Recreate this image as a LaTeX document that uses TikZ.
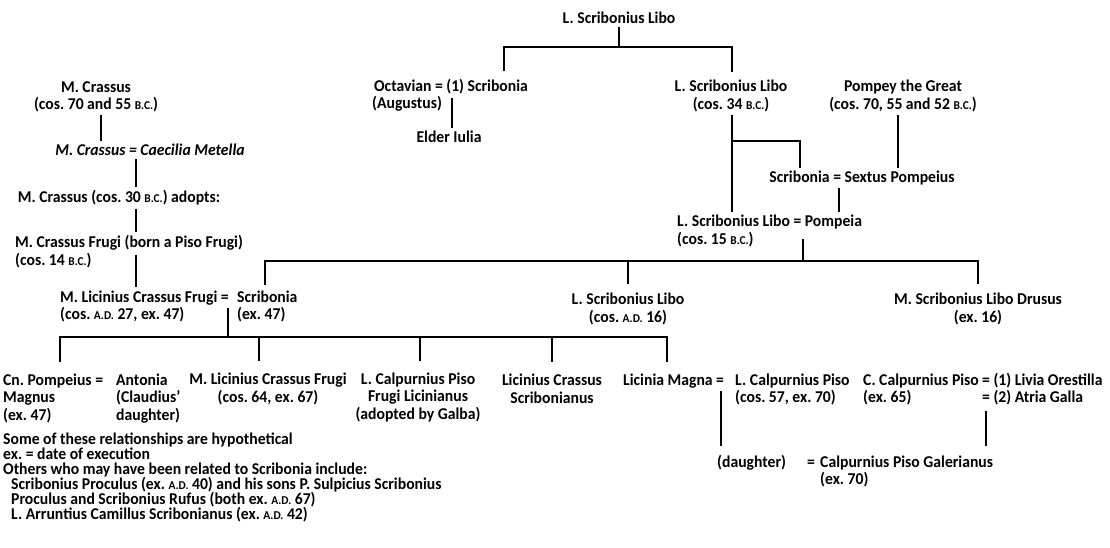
\documentclass[tikz,border=0pt]{standalone}
\usepackage{fontspec}
\setmainfont{Carlito}[FakeStretch=0.95]
\frenchspacing
\newcommand{\bcx}{{\fontsize{12}{12}\selectfont B.C.}}
\newcommand{\adx}{{\fontsize{12}{12}\selectfont A.D.}}
\tikzset{
  person/.style={inner xsep=2pt, inner ysep=3pt, align=center, font=\fontsize{16.5}{17.5}\selectfont\bfseries},
  personl/.style={person, align=left, anchor=west},
  kin/.style={line width=1.8pt},
  drop/.style={kin, shorten >=6pt},
}
\begin{document}
\begin{tikzpicture}[x=1pt, y=-1pt]
\useasboundingbox (0,0) rectangle (1110,548);

\node[person] (top) at (619,18) {L. Scribonius Libo};
\node[person] (oct) at (451,87) {Octavian = (1) Scribonia};
\node[personl] (aug) at (370,104) {(Augustus)};
\node[person] (iulia) at (449,137) {Elder Iulia};
\node[person] (libo34) at (731,95.75) {L. Scribonius Libo\\(cos. 34 \bcx)};
\node[person] (pompey) at (903,95.75) {Pompey the Great\\(cos. 70, 55 and 52 \bcx)};
\node[person] (scrsex) at (862,178) {Scribonia = Sextus Pompeius};
\node[personl] (libo15) at (675,230.75) {L. Scribonius Libo = Pompeia\\(cos. 15 \bcx)};

\node[person] (crassus) at (96,96.75) {M. Crassus\\(cos. 70 and 55 \bcx)};
\node[person] (metella) at (150,150) {\itshape M. Crassus = Caecilia Metella};
\node[person] (adopts) at (119,198) {M. Crassus (cos. 30 \bcx) adopts:};
\node[personl] (frugi) at (13,251.75) {M. Crassus Frugi (born a Piso Frugi)\\(cos. 14 \bcx)};
\node[personl] (lcf) at (58,307.5) {\begin{tabular}{@{}l@{}l@{}}\makebox[177pt][l]{M. Licinius Crassus Frugi =} & Scribonia\\(cos. \adx\ 27, ex. 47) & (ex. 47)\end{tabular}};
\node[person] (libo16) at (628,308.75) {L. Scribonius Libo\\(cos. \adx\ 16)};
\node[person] (drusus) at (978,308.75) {M. Scribonius Libo Drusus\\(ex. 16)};

\node[personl] (pompmag) at (1,399.3) {\begin{tabular}{@{}l@{}l@{}}\makebox[113pt][l]{Cn. Pompeius =} & Antonia\\Magnus & (Claudius'\\(ex. 47) & daughter)\end{tabular}};
\node[person] (lcf2) at (268,388.75) {M. Licinius Crassus Frugi\\(cos. 64, ex. 67)};
\node[person] (piso) at (418,397.5) {L. Calpurnius Piso\\Frugi Licinianus\\(adopted by Galba)};
\node[person] (scrib) at (552,388.75) {Licinius Crassus\\Scribonianus};
\node[personl] (magna) at (621,390.5) {\begin{tabular}{@{}l@{}l@{}}\makebox[112pt][l]{Licinia Magna =} & L. Calpurnius Piso\\ & (cos. 57, ex. 70)\end{tabular}};
\node[personl] (cpiso) at (861,390.5) {\begin{tabular}{@{}l@{}l@{}}\makebox[119pt][l]{C. Calpurnius Piso} & = (1) Livia Orestilla\\(ex. 65) & = (2) Atria Galla\end{tabular}};
\node[personl] (galer) at (715,472.5) {\begin{tabular}{@{}l@{}l@{}}\makebox[103pt][l]{\makebox[90pt][l]{(daughter)}=} & Calpurnius Piso Galerianus\\ & (ex. 70)\end{tabular}};

\node[personl, font=\fontsize{16.5}{15}\selectfont\bfseries] (notes) at (1,477.5) {Some of these relationships are hypothetical\\ex. = date of execution\\Others who may have been related to Scribonia include:\\\hspace*{8pt}Scribonius Proculus (ex. \adx\ 40) and his sons P. Sulpicius Scribonius\\\hspace*{8pt}Proculus and Scribonius Rufus (both ex. \adx\ 67)\\\hspace*{8pt}L. Arruntius Camillus Scribonianus (ex. \adx\ 42)};

\coordinate (j1) at (619,47);
\coordinate (j1l) at (504,47);
\coordinate (j1r) at (732,47);
\draw[kin] (top) -- (j1);
\draw[kin, shorten <=5pt, shorten >=5pt] (oct.north -| j1l) -- (j1l) -- (j1r) -- (libo34.north -| j1r);

\coordinate (ma) at (452,0);
\draw[kin] (ma |- oct.south) -- (ma |- iulia.north);
\coordinate (mb) at (732,0);
\draw[kin] (mb |- libo34.south) -- (mb |- libo15.north);
\coordinate (j2) at (732,141);
\coordinate (mc) at (800,0);
\draw[kin] (j2) -| (mc |- scrsex.north);
\coordinate (md) at (898,0);
\draw[kin] (md |- pompey.south) -- (md |- scrsex.north);
\coordinate (me) at (839,0);
\draw[kin] (me |- scrsex.south) -- (me |- libo15.north);

\path (libo15.center) ++(0,8) coordinate (s15);
\coordinate (j3) at (803,261);
\coordinate (j3l) at (265,261);
\coordinate (j3m) at (628,261);
\coordinate (j3r) at (978,261);
\draw[kin] (j3 |- s15) -- (j3);
\draw[kin, shorten <=2pt, shorten >=6pt] (lcf.north -| j3l) -- (j3l) -- (j3r) -- (drusus.north -| j3r);
\draw[drop] (j3m) -- (libo16.north -| j3m);

\coordinate (mf) at (101,0);
\draw[kin] (mf |- crassus.south) -- (mf |- metella.north);
\coordinate (mg) at (136,0);
\draw[kin] (mg |- metella.south) -- (mg |- adopts.north);
\draw[kin] (mg |- adopts.south) -- (mg |- frugi.north);
\path (frugi.center) ++(0,3) coordinate (sf);
\draw[kin] (mg |- sf) -- (mg |- lcf.north);

\coordinate (j4) at (228,337);
\coordinate (j4a) at (60,337);
\coordinate (j4b) at (259,337);
\coordinate (j4c) at (420,337);
\coordinate (j4d) at (552,337);
\coordinate (j4e) at (667,337);
\draw[kin] (j4 |- lcf.center) -- (j4);
\draw[kin, shorten <=8pt, shorten >=8pt] (pompmag.north -| j4a) -- (j4a) -- (j4e) -- (magna.north -| j4e);
\foreach \j/\n in {j4b/lcf2, j4c/piso, j4d/scrib}
  \draw[kin, shorten >=9pt] (\j) -- (\n.north -| \j);

\coordinate (mh) at (721,0);
\draw[drop] (mh |- magna.center) -- (mh |- galer.north);
\coordinate (mi) at (986,0);
\draw[drop] (mi |- cpiso.south) -- (mi |- galer.north);
\end{tikzpicture}
\end{document}
